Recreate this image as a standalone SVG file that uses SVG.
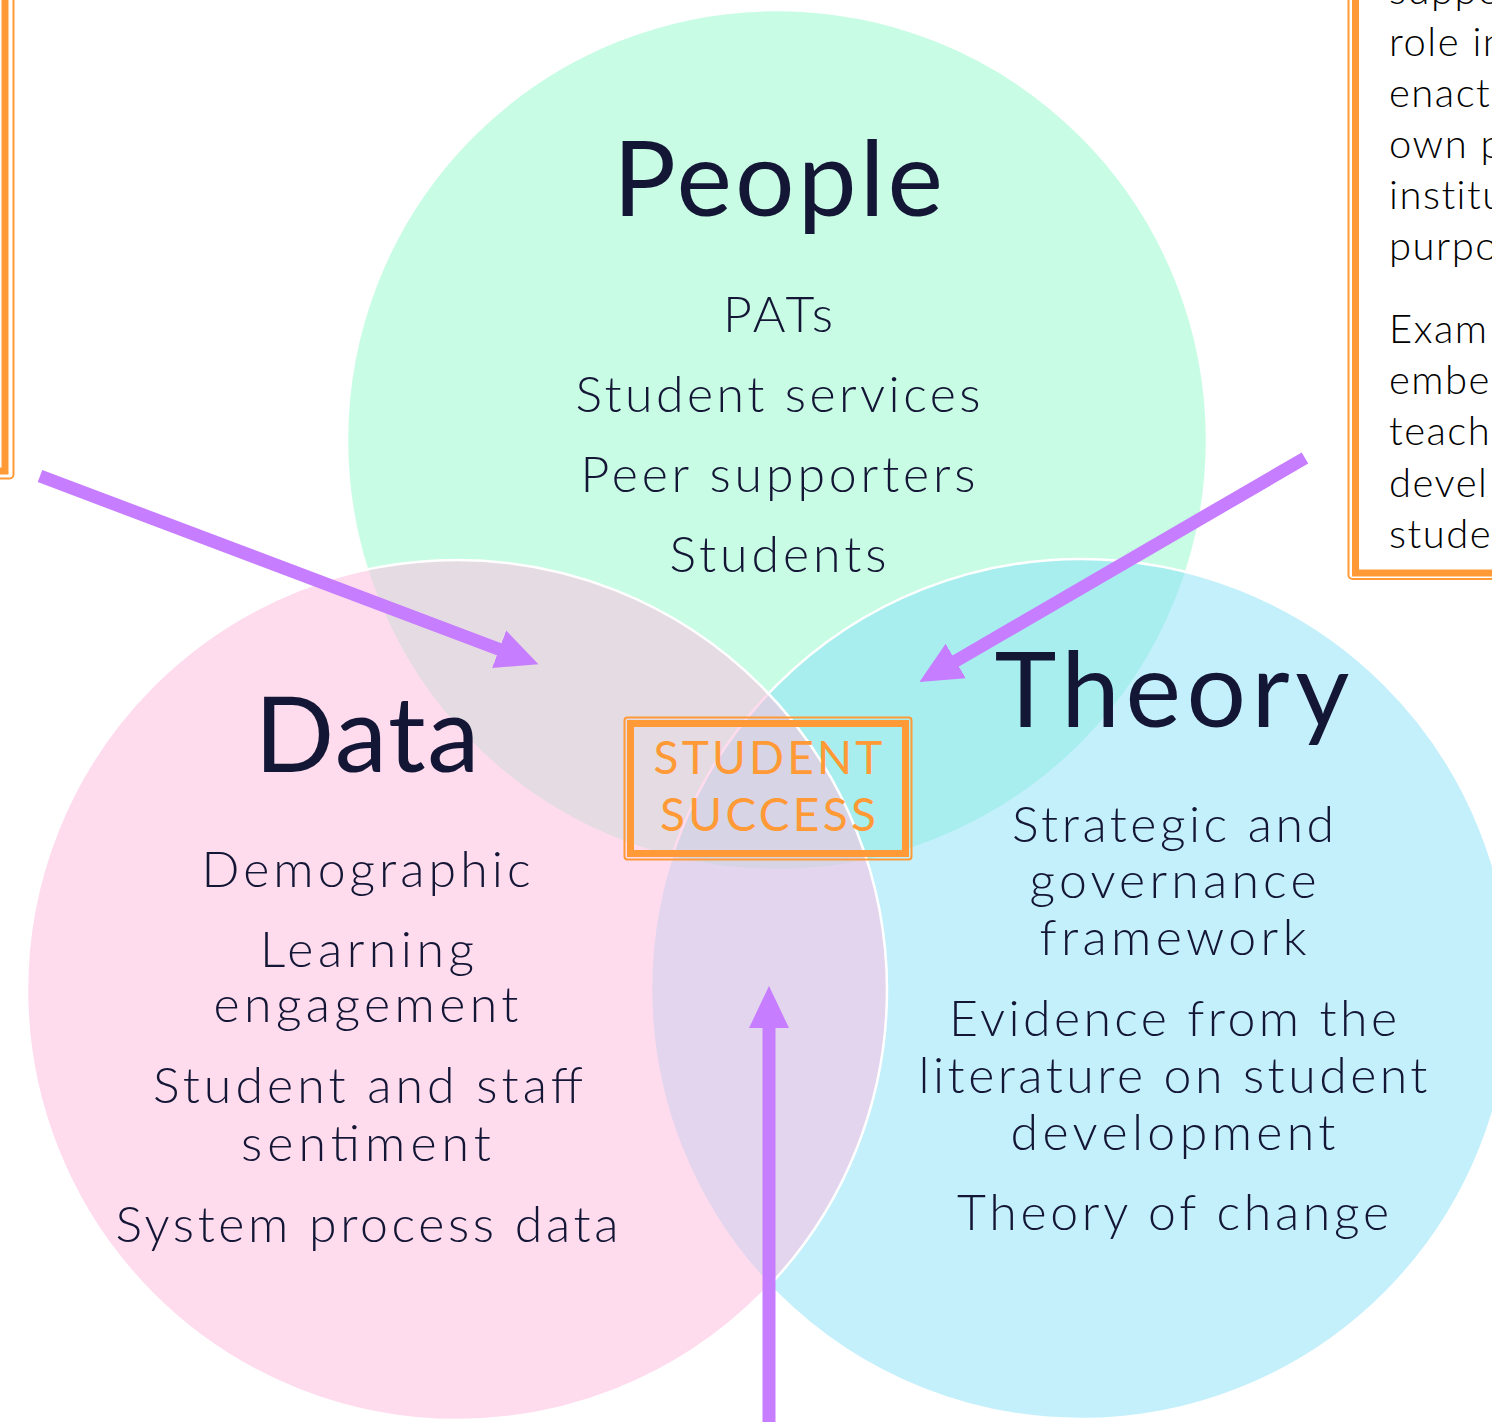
<svg xmlns="http://www.w3.org/2000/svg" width="1492" height="1422" viewBox="0 0 1492 1422">
<defs>
<style>
.circle{stroke:#ffffff;stroke-width:2.5}
.title{font-family:Lato,"Noto Sans",sans-serif;fill:#141636;text-anchor:middle;font-size:105px;font-weight:400}
.item{font-family:Lato,"Noto Sans",sans-serif;fill:#141636;text-anchor:middle;font-size:50px;font-weight:300}
.note{font-family:Lato,"Noto Sans",sans-serif;fill:#000000;font-size:40px;font-weight:300;letter-spacing:1.5px}
.boxthick{fill:none;stroke:#ff9a36;stroke-width:7}
.boxthin{fill:none;stroke:#ff9a36;stroke-width:2}
.ss{font-family:Lato,"Noto Sans",sans-serif;fill:#ff9a36;text-anchor:middle;font-size:46px;font-weight:400}
.conn{stroke:#c77dff;stroke-width:13;fill:none}
</style>
<marker id="arrow" markerUnits="userSpaceOnUse" markerWidth="44" markerHeight="42" refX="2" refY="20" orient="auto" viewBox="0 0 44 40">
<path d="M0,0 L42,20 L0,40 Z" fill="#c77dff"/>
</marker>
</defs>
<rect width="1492" height="1422" fill="#ffffff"/>

<g id="people">
<circle class="circle" cx="777" cy="440" r="430" fill="#c8fce4"/>
<text class="title" x="778" y="216" textLength="330" lengthAdjust="spacing">People</text>
<text class="item" x="778" y="332" textLength="110" lengthAdjust="spacing">PATs</text>
<text class="item" x="778" y="412" textLength="405" lengthAdjust="spacing">Student services</text>
<text class="item" x="778" y="492" textLength="395" lengthAdjust="spacing">Peer supporters</text>
<text class="item" x="778" y="572" textLength="217" lengthAdjust="spacing">Students</text>
</g>

<g id="theory">
<circle class="circle" cx="1081" cy="989" r="430" fill="#87e0f9" fill-opacity="0.49"/>
<text class="title" x="1172" y="727" textLength="355" lengthAdjust="spacing">Theory</text>
<text class="item" x="1173" y="842" textLength="322" lengthAdjust="spacing">Strategic and</text>
<text class="item" x="1173" y="898" textLength="287" lengthAdjust="spacing">governance</text>
<text class="item" x="1173" y="955" textLength="267" lengthAdjust="spacing">framework</text>
<text class="item" x="1173" y="1036" textLength="448" lengthAdjust="spacing">Evidence from the</text>
<text class="item" x="1173" y="1093" textLength="509" lengthAdjust="spacing">literature on student</text>
<text class="item" x="1173" y="1150" textLength="325" lengthAdjust="spacing">development</text>
<text class="item" x="1173" y="1230" textLength="432" lengthAdjust="spacing">Theory of change</text>
</g>

<g id="data">
<circle class="circle" cx="457" cy="990" r="430" fill="#fdbfe0" fill-opacity="0.55"/>
<text class="title" x="367" y="772" textLength="225" lengthAdjust="spacing">Data</text>
<text class="item" x="366" y="887" textLength="329" lengthAdjust="spacing">Demographic</text>
<text class="item" x="367" y="967" textLength="214" lengthAdjust="spacing">Learning</text>
<text class="item" x="366" y="1022" textLength="305" lengthAdjust="spacing">engagement</text>
<text class="item" x="368" y="1103" textLength="430" lengthAdjust="spacing">Student and staff</text>
<text class="item" x="366" y="1161" textLength="250" lengthAdjust="spacing">sentiment</text>
<text class="item" x="367" y="1242" textLength="503" lengthAdjust="spacing">System process data</text>
</g>

<g id="student-success">
<rect class="boxthin" x="624.5" y="717.5" width="287" height="142" rx="3"/>
<rect class="boxthick" x="630.5" y="723.5" width="275" height="130"/>
<text class="ss" x="768" y="774" textLength="229" lengthAdjust="spacing">STUDENT</text>
<text class="ss" x="768" y="831" textLength="216" lengthAdjust="spacing">SUCCESS</text>
</g>

<g id="note-left">
<rect class="boxthick" x="-20" y="-20" width="25" height="491"/>
<rect class="boxthin" x="-20" y="-20" width="33.5" height="498.5" rx="4"/>
</g>

<g id="note-right">
<rect class="boxthick" x="1355.5" y="-20" width="160" height="593"/>
<rect class="boxthin" x="1348.5" y="-20" width="170" height="599" rx="4"/>
<text class="note" x="1389" y="4">suppo</text>
<text class="note" x="1389" y="56">role in</text>
<text class="note" x="1389" y="107">enact</text>
<text class="note" x="1389" y="158">own p</text>
<text class="note" x="1389" y="209">institu</text>
<text class="note" x="1389" y="260">purpo</text>
<text class="note" x="1389" y="343">Exam</text>
<text class="note" x="1389" y="394">embe</text>
<text class="note" x="1389" y="445">teach</text>
<text class="note" x="1389" y="497">devel</text>
<text class="note" x="1389" y="548">stude</text>
</g>

<g id="connectors">
<line class="conn" x1="40" y1="476" x2="501" y2="650" marker-end="url(#arrow)"/>
<line class="conn" x1="1305" y1="458" x2="954" y2="662" marker-end="url(#arrow)"/>
<line class="conn" x1="769" y1="1430" x2="769" y2="1026" marker-end="url(#arrow)"/>
</g>
</svg>
